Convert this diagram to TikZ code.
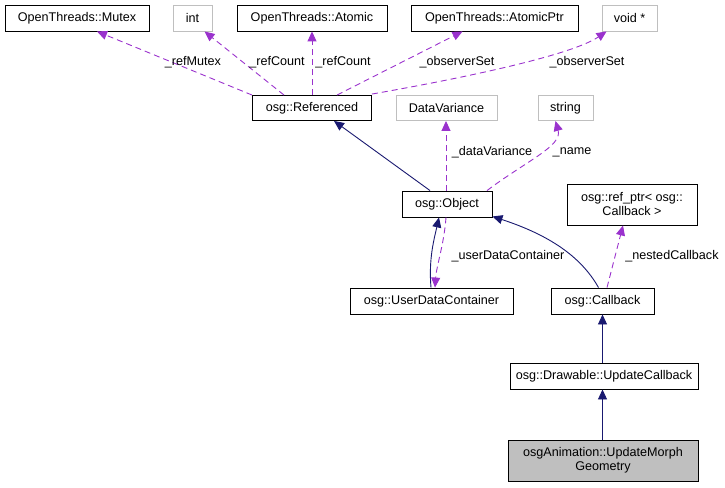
\documentclass[tikz,border=0pt]{standalone}
\usepackage{fontspec}
\setmainfont{Liberation Sans}
\usetikzlibrary{arrows.meta,calc}
\definecolor{edgeblue}{HTML}{191970}
\definecolor{edgepurple}{HTML}{9A32CD}
\definecolor{boxgray}{HTML}{BFBFBF}
\begin{document}
\begin{tikzpicture}[x=1pt,y=-1pt,
  every node/.style={font=\fontsize{12.6}{14}\selectfont, inner sep=1pt, align=center},
  box/.style={draw=black, line width=0.9pt, fill=white, minimum height=26pt},
  graybox/.style={draw=boxgray, line width=0.9pt, fill=white, minimum height=26pt},
  inh/.style={draw=edgeblue, line width=0.9pt, -{Triangle[length=10pt,width=9pt]}},
  use/.style={draw=edgepurple, line width=0.9pt, dash pattern=on 6pt off 4pt, -{Triangle[length=10pt,width=9pt]}},
  lbl/.style={font=\fontsize{12.6}{14}\selectfont, inner sep=0pt}
]
\useasboundingbox (0,0) rectangle (725,487);
% nodes
\node[box, minimum width=144pt] (mutex) at (77,18) {OpenThreads::Mutex};
\node[graybox, minimum width=39pt] (int) at (192.5,18) {int};
\node[box, minimum width=150pt] (atomic) at (312,18) {OpenThreads::Atomic};
\node[box, minimum width=167pt] (atomicptr) at (494.5,18) {OpenThreads::AtomicPtr};
\node[graybox, minimum width=55pt] (voidp) at (629.5,18) {void *};
\node[box, minimum width=119pt, minimum height=25pt] (ref) at (312,108) {osg::Referenced};
\node[graybox, minimum width=101pt, minimum height=25pt] (dv) at (446.5,108) {DataVariance};
\node[graybox, minimum width=55pt, minimum height=25pt] (str) at (565.5,108) {string};
\node[box, minimum width=90pt] (obj) at (447,204) {osg::Object};
\node[box, minimum width=130pt, minimum height=41pt] (refptr) at (632,204.5) {osg::ref\_ptr< osg::\\Callback >};
\node[box, minimum width=163pt] (udc) at (431.5,301) {osg::UserDataContainer};
\node[box, minimum width=103pt] (cb) at (602.5,301) {osg::Callback};
\node[box, minimum width=188pt] (duc) at (604,376) {osg::Drawable::UpdateCallback};
\node[box, fill=boxgray, minimum width=190pt, minimum height=41pt] (morph) at (603,460.5) {osgAnimation::UpdateMorph\\Geometry};
% inheritance
\draw[inh] ([xshift=-17pt]obj.north) -- ([xshift=22pt]ref.south);
\draw[inh] ([xshift=-0.5pt]udc.north) .. controls ($(udc.north)+(-3,-28)$) and ($(obj.south)+(-13,22)$) .. ([xshift=-8pt]obj.south);
\draw[inh] ([xshift=-4pt]cb.north) .. controls ($(cb.north)+(-22,-32)$) and ($(obj.south east)+(55,17)$) .. ([yshift=1pt]obj.south east);
\draw[inh] (cb.south |- duc.north) -- (cb.south);
\draw[inh] (cb.south |- morph.north) -- (cb.south |- duc.south);
% usage
\draw[use] ([xshift=-1pt]obj.south) .. controls ($(obj.south)+(-3,27)$) and ($(udc.north)+(5,-22)$) .. ([xshift=3.5pt]udc.north);
\node[lbl] (l1) at (508,256) {\_userDataContainer};
\draw[use] ([xshift=4.5pt]cb.north) -- ([xshift=-9pt]refptr.south);
\node[lbl] (l2) at (672,256) {\_nestedCallback};
\draw[use] ([xshift=-1pt]obj.north) -- ([xshift=-0.5pt]dv.south);
\node[lbl] (l3) at (492,152) {\_dataVariance};
\draw[use] ([xshift=40pt]obj.north) .. controls ($(obj.north)+(80,-30)$) and ($(str.south)+(-3,25)$) .. ([xshift=-10pt]str.south);
\node[lbl] (l4) at (572,152) {\_name};
\draw[use] (ref.north west) -- ([xshift=20pt]mutex.south);
\node[lbl] (l5) at (193,62) {\_refMutex};
\draw[use] ([xshift=-28pt]ref.north) -- ([xshift=12pt]int.south);
\node[lbl] (l6) at (277,62) {\_refCount};
\draw[use] (ref.north) -- (atomic.south);
\node[lbl] (l7) at (343,62) {\_refCount};
\draw[use] ([xshift=25pt]ref.north) -- ([xshift=-32pt]atomicptr.south);
\node[lbl] (l8) at (457,62) {\_observerSet};
\draw[use] ([yshift=1pt]ref.north east) .. controls ($(ref.north east)+(80,-15)$) and ($(voidp.south)+(-60,25)$) .. ([xshift=-23pt]voidp.south);
\node[lbl] (l9) at (587,62) {\_observerSet};
\end{tikzpicture}
\end{document}
